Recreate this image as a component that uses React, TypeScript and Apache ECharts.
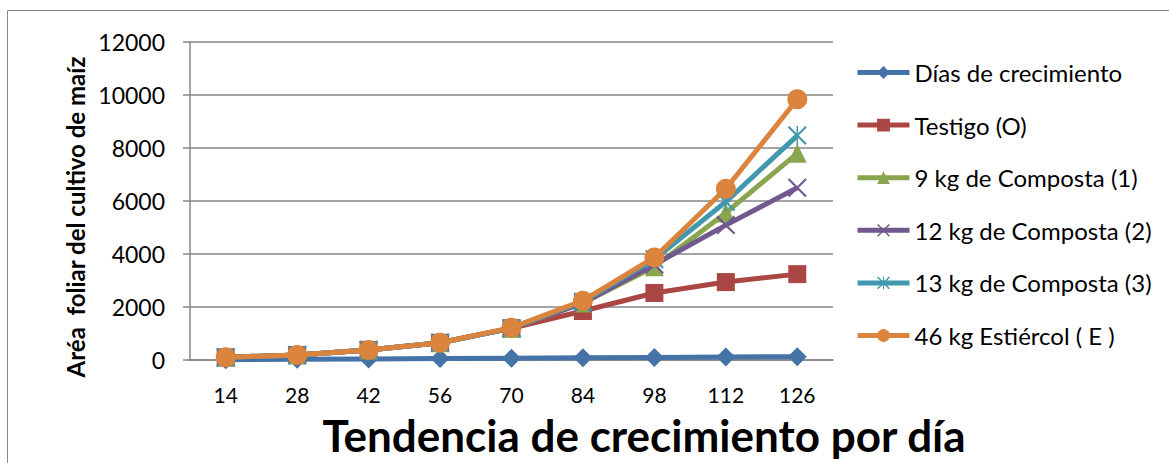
import React, { useEffect, useRef } from "react";
import * as echarts from "echarts";

const categories = ["14", "28", "42", "56", "70", "84", "98", "112", "126"];
const diasCrecimiento = [14, 28, 42, 56, 70, 84, 98, 112, 126];
const testigo = [100, 190, 380, 650, 1200, 1850, 2530, 2940, 3240];
const composta1 = [100, 190, 380, 650, 1200, 2150, 3520, 5550, 7800];
const composta2 = [100, 190, 380, 650, 1200, 2150, 3600, 5090, 6500];
const composta3 = [100, 190, 380, 650, 1200, 2200, 3800, 5970, 8470];
const estiercol = [100, 190, 380, 650, 1220, 2240, 3870, 6460, 9840];
const seriesNames = [
  "Días de crecimiento",
  "Testigo (O)",
  "9 kg de Composta (1)",
  "12 kg de Composta (2)",
  "13 kg de Composta (3)",
  "46 kg Estiércol ( E )",
];
const yTicks = { min: 0, max: 12000, interval: 2000 };

const X_PATH =
  "path://M0,0.8 L0.8,0 L5,4.2 L9.2,0 L10,0.8 L5.8,5 L10,9.2 L9.2,10 L5,5.8 L0.8,10 L0,9.2 L4.2,5 Z";
const STAR_PATH =
  "path://M0,0.8 L0.8,0 L5,4.2 L9.2,0 L10,0.8 L5.8,5 L10,9.2 L9.2,10 L5,5.8 L0.8,10 L0,9.2 L4.2,5 Z M4.6,0 L5.4,0 L5.4,10 L4.6,10 Z";

export default function App() {
  const ref = useRef<HTMLDivElement>(null);
  useEffect(() => {
    if (!ref.current) return;
    const chart = echarts.init(ref.current, null, { renderer: "svg" });
    const font = "Lato, 'Open Sans', sans-serif";
    const colors = ["#4572A7", "#AA4643", "#89A54E", "#71588F", "#4198AF", "#DB843D"];
    const symbols = ["diamond", "rect", "triangle", X_PATH, STAR_PATH, "circle"];
    const sizes = [19, 18, 19, 19, 19, 20];
    const datasets = [diasCrecimiento, testigo, composta1, composta2, composta3, estiercol];
    chart.setOption({
      animation: false,
      backgroundColor: "#ffffff",
      color: colors,
      textStyle: { fontFamily: font },
      grid: { left: 190, right: 336, top: 42, bottom: 103 },
      legend: {
        orient: "vertical",
        left: 850,
        top: 54,
        itemWidth: 52,
        itemHeight: 16,
        itemGap: 25.6,
        data: seriesNames,
        lineStyle: { width: 5 },
        textStyle: { fontSize: 24, color: "#000000", fontFamily: font, lineHeight: 27 },
      },
      xAxis: {
        type: "category",
        data: categories,
        boundaryGap: true,
        axisLine: { lineStyle: { color: "#868686", width: 1.5 } },
        axisTick: { show: false },
        axisLabel: { fontSize: 21, color: "#000000", margin: 24, fontFamily: font },
      },
      yAxis: {
        type: "value",
        min: yTicks.min,
        max: yTicks.max,
        interval: yTicks.interval,
        axisLine: { show: true, lineStyle: { color: "#868686", width: 1.5 } },
        axisTick: { show: true, length: 7, lineStyle: { color: "#868686", width: 1.5 } },
        splitLine: { lineStyle: { color: "#868686", width: 1.5 } },
        axisLabel: {
          fontSize: 23,
          color: "#000000",
          margin: 25,
          fontFamily: font,
          formatter: (v: number) => String(v),
        },
      },
      graphic: [
        {
          type: "rect",
          shape: { x: 7.5, y: 10.5, width: 1300, height: 600 },
          style: { fill: "none", stroke: "#868686", lineWidth: 1 },
          silent: true,
        },
        {
          type: "text",
          x: 75,
          y: 217,
          rotation: Math.PI / 2,
          style: {
            text: "Aréa  foliar del cultivo de maíz",
            fontSize: 24,
            fontWeight: "bold",
            fontFamily: font,
            fill: "#000000",
            textAlign: "center",
            textVerticalAlign: "middle",
          },
        },
        {
          type: "text",
          x: 644,
          y: 435,
          style: {
            text: "Tendencia de crecimiento por día",
            fontSize: 44,
            fontWeight: "bold",
            fontFamily: font,
            fill: "#000000",
            textAlign: "center",
            textVerticalAlign: "middle",
          },
        },
      ],
      series: seriesNames.map((name, i) => ({
        name,
        type: "line",
        data: datasets[i],
        symbol: symbols[i],
        symbolSize: sizes[i],
        showAllSymbol: true,
        lineStyle: { width: 5, color: colors[i] },
        itemStyle: { color: colors[i] },
        z: 2 + i,
      })),
    });
    return () => chart.dispose();
  }, []);
  return (
    <div
      ref={ref}
      style={{ position: "absolute", left: 0, top: 0, width: 1169, height: 463 }}
    />
  );
}
